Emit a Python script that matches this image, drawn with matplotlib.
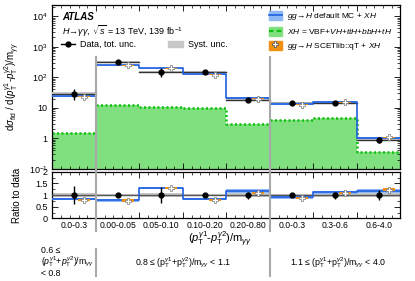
import numpy as np
import matplotlib
matplotlib.use("Agg")
import matplotlib.pyplot as plt
from matplotlib.patches import Patch
from matplotlib.lines import Line2D

plt.rcParams['font.family'] = ['Liberation Sans', 'DejaVu Sans']
plt.rcParams['mathtext.fontset'] = 'custom'
plt.rcParams['mathtext.rm'] = 'Liberation Sans'
plt.rcParams['mathtext.it'] = 'Liberation Sans:italic'
plt.rcParams['mathtext.bf'] = 'Liberation Sans:bold'

# bin labels (3 regions of (pT1+pT2)/myy)
bin_labels = ['0.0-0.3', '0.00-0.05', '0.05-0.10', '0.10-0.20', '0.20-0.80',
              '0.0-0.3', '0.3-0.6', '0.6-4.0']
regions = [(0, 1), (1, 5), (5, 8)]  # bin index ranges

data = [29, 320, 150, 150, 18, 14.8, 14.0, 0.88]
data_err = [0.40, 0.10, 0.33, 0.10, 0.15, 0.10, 0.15, 0.22]   # relative tot. unc.
syst_err = [0.10, 0.06, 0.08, 0.06, 0.08, 0.06, 0.07, 0.08]   # relative syst. unc.
ratio_default = [0.82, 0.77, 1.30, 0.83, 1.17, 0.90, 1.12, 1.17]
unc_default = [0.05, 0.05, 0.06, 0.05, 0.07, 0.06, 0.07, 0.08]
ratio_scet = [0.80, 0.76, 1.31, 0.80, 1.10, 0.86, 1.08, 1.23]
unc_scet = [0.05, 0.05, 0.05, 0.05, 0.05, 0.05, 0.05, 0.06]
xh = [1.5, 11.9, 10.8, 9.8, 2.9, 4.1, 4.65, 0.36]

y_ticks = [0.1, 1, 10, 100, 1000, 10000]
y_ticklabels = [r'$10^{-1}$', '1', '10', r'$10^{2}$', r'$10^{3}$', r'$10^{4}$']

n = len(bin_labels)
edges = np.arange(n + 1)
centers = edges[:-1] + 0.5
data = np.array(data)
d_def = data * np.array(ratio_default)
d_scet = data * np.array(ratio_scet)

BLUE = '#1f5fe0'
LBLUE = '#8fb8f5'
GREEN_F = '#80e080'
GREEN_L = '#10c010'
ORANGE = '#f09010'
GREY = '#a8a8a8'

fig = plt.figure(figsize=(4.15, 2.81), dpi=100)
ax = fig.add_axes([0.1265, 0.399, 0.8385, 0.583])
ax2 = fig.add_axes([0.1265, 0.223, 0.8385, 0.166])

ymin, ymax = 0.1, 2.3e4


def step_region(a, vals, i0, i1, **kw):
    xs = edges[i0:i1 + 1]
    v = list(vals[i0:i1]) + [vals[i1 - 1]]
    a.step(xs, v, where='post', **kw)


# --- main panel ---
for i0, i1 in regions:
    xs = edges[i0:i1 + 1]
    v = list(xh[i0:i1]) + [xh[i1 - 1]]
    ax.fill_between(xs, ymin, v, step='post', color=GREEN_F, lw=0, zorder=1)
    step_region(ax, xh, i0, i1, color=GREEN_L, lw=1.8, ls=(0, (0.8, 1.0)), zorder=2)
    step_region(ax, d_def, i0, i1, color=BLUE, lw=1.2, zorder=5)

for i in range(n):
    # syst band + data line
    ax.fill_between([edges[i], edges[i + 1]], data[i] * (1 - syst_err[i]), data[i] * (1 + syst_err[i]),
                    color='#c8c8c8', lw=0, zorder=3)
    ax.plot([edges[i], edges[i + 1]], [data[i], data[i]], color='#333333', lw=1.0, zorder=4)
    ax.fill_between([edges[i], edges[i + 1]], d_def[i] * (1 - unc_default[i]), d_def[i] * (1 + unc_default[i]),
                    color=LBLUE, lw=0, zorder=4.5)
    ax.bar(centers[i] + 0.23, 2 * unc_scet[i] * d_scet[i], bottom=d_scet[i] * (1 - unc_scet[i]),
           width=0.28, color=ORANGE, lw=0, zorder=6)

ax.errorbar(centers, data, yerr=data * np.array(data_err), fmt='o', color='black', ms=3.5,
            elinewidth=1.0, capsize=0, zorder=8)
ax.plot(centers + 0.23, d_scet, ls='none', marker='P', ms=4.3, mfc='white', mec='#777777', mew=0.5, zorder=7)

ax.set_yscale('log')
ax.set_ylim(ymin, ymax)
ax.set_xlim(0, n)
ax.set_yticks(y_ticks, y_ticklabels)

# --- ratio panel ---
for i0, i1 in regions:
    step_region(ax2, ratio_default, i0, i1, color=BLUE, lw=1.2, zorder=5)
for i in range(n):
    ax2.fill_between([edges[i], edges[i + 1]], 1 - syst_err[i], 1 + syst_err[i], color='#c8c8c8', lw=0, zorder=2)
    ax2.fill_between([edges[i], edges[i + 1]], ratio_default[i] - unc_default[i], ratio_default[i] + unc_default[i],
                     color=LBLUE, lw=0, zorder=3)
    ax2.bar(centers[i] + 0.23, 2 * unc_scet[i], bottom=ratio_scet[i] - unc_scet[i],
            width=0.28, color=ORANGE, lw=0, zorder=6)
ax2.axhline(1, color='#555555', lw=1.0, zorder=4)
ax2.errorbar(centers, np.ones(n), yerr=data_err, fmt='o', color='black', ms=3.5,
             elinewidth=1.0, capsize=0, zorder=8)
ax2.plot(centers + 0.23, ratio_scet, ls='none', marker='P', ms=4.3, mfc='white', mec='#777777', mew=0.5, zorder=7)
ax2.set_xlim(0, n)
ax2.set_ylim(0, 2)
ax2.set_yticks([0, 0.5, 1, 1.5, 2], ['0', '0.5', '1', '1.5', '2'])

# region separators
for b in [1, 5]:
    ax.plot([b, b], [450, ymin], color=GREY, lw=1.5, zorder=9, clip_on=False)
    ax2.axvline(b, ymin=-0.27, ymax=1.1, color=GREY, lw=1.5, zorder=9, clip_on=False)
    xf = 0.1265 + 0.8385 * b / n
    fig.add_artist(Line2D([xf, xf], [1 - 249 / 281, 1 - 276 / 281], color=GREY, lw=1.5))

for a in (ax, ax2):
    a.tick_params(which='both', direction='in', top=True, right=True, labelsize=6.5)
    a.tick_params(which='major', length=4, width=0.6)
    a.tick_params(which='minor', length=2, width=0.5)
    a.set_xticks(edges)
    a.set_xticks(np.arange(0, n, 0.2), minor=True)
    for s in a.spines.values():
        s.set_linewidth(0.9)
ax.tick_params(labelbottom=False)
ax2.set_xticklabels([])
for i, lab in enumerate(bin_labels):
    ax2.text(centers[i], -0.06, lab, transform=ax2.get_xaxis_transform(), ha='center', va='top', fontsize=6.2)
ax2.yaxis.set_minor_locator(matplotlib.ticker.MultipleLocator(0.25))

ax.set_ylabel(r'd$\sigma_{\rm fid}$ / d($p_{\rm T}^{\gamma1}$-$p_{\rm T}^{\gamma2}$)/m$_{\gamma\gamma}$', fontsize=7, labelpad=2)
ax2.set_ylabel('Ratio to data', fontsize=7, labelpad=8)
ax.yaxis.set_label_coords(-0.088, 0.5)
ax2.yaxis.set_label_coords(-0.088, 0.5)

# texts
ax.text(0.027, 0.955, 'ATLAS', transform=ax.transAxes, fontsize=7, fontweight='bold', style='italic', va='top')
ax.text(0.027, 0.885, r'$H\!\rightarrow\!\gamma\gamma$, $\sqrt{s}$ = 13 TeV, 139 fb$^{-1}$', transform=ax.transAxes,
        fontsize=6.5, va='top')

leg1 = ax.legend([Line2D([], [], color='black', marker='o', ms=3.5, lw=1.0),
                  Patch(color='#c8c8c8')],
                 ['Data, tot. unc.', 'Syst. unc.'], ncol=2, loc='upper left',
                 bbox_to_anchor=(0.0, 0.835), frameon=False, fontsize=6.5, handlelength=1.6,
                 columnspacing=3.5, handletextpad=0.6)
ax.add_artist(leg1)

h_def = (Patch(color=LBLUE), Line2D([], [], color=BLUE, lw=1.2))
h_xh = (Patch(color=GREEN_F), Line2D([], [], color=GREEN_L, lw=1.6, ls=(0, (2, 1.5))))
h_scet = (Patch(color=ORANGE), Line2D([], [], ls='none', marker='P', ms=4.3, mfc='white', mec='#444444', mew=0.5))
ax.legend([h_def, h_xh, h_scet],
          [r'$gg\!\rightarrow\!H$ default MC + $XH$',
           r'$XH$ = VBF+$VH$+$ttH$+$bbH$+$tH$',
           r'$gg\!\rightarrow\!H$ SCETlib::qT + $XH$'],
          loc='upper left', bbox_to_anchor=(0.6, 1.01), frameon=False, fontsize=6,
          handlelength=1.6, handleheight=1.3, labelspacing=0.55, handletextpad=0.6)

fig.text(0.53, 1 - 239 / 281, r'($p_{\rm T}^{\gamma1}$-$p_{\rm T}^{\gamma2}$)/m$_{\gamma\gamma}$',
         ha='center', va='center', fontsize=8)
fig.text(0.098, 1 - 262 / 281, '0.6 ≤\n' + r'($p_{\rm T}^{\gamma1}$+$p_{\rm T}^{\gamma2}$)/m$_{\gamma\gamma}$' + '\n< 0.8',
         ha='left', va='center', fontsize=6.3, linespacing=1.0)
fig.text(0.44, 1 - 263 / 281, r'0.8 ≤ (p$_{\rm T}^{\gamma1}$+p$_{\rm T}^{\gamma2}$)/m$_{\gamma\gamma}$ < 1.1',
         ha='center', va='center', fontsize=6.3)
fig.text(0.815, 1 - 263 / 281, r'1.1 ≤ (p$_{\rm T}^{\gamma1}$+p$_{\rm T}^{\gamma2}$)/m$_{\gamma\gamma}$ < 4.0',
         ha='center', va='center', fontsize=6.3)

fig.savefig('out.png', dpi=100)
